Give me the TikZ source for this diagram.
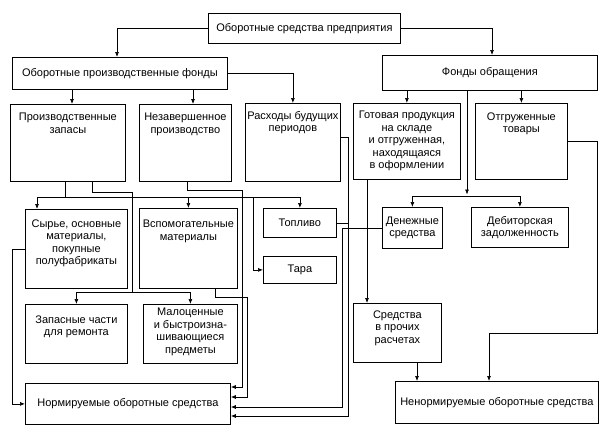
\documentclass[tikz,border=0pt]{standalone}
\usepackage{fontspec}
\setmainfont{Liberation Sans}
\usetikzlibrary{positioning,arrows.meta}

\begin{document}
\begin{tikzpicture}[x=1pt,y=-1pt,line width=0.7pt,>={Latex[length=5pt,width=4pt]},
  box/.style = {draw, line width=0.8pt, inner sep=0pt, align=center, anchor=north west, font=\fontsize{11}{12.5}\selectfont},
  txt/.style = {inner sep=0pt, align=center, font=\fontsize{11}{12.5}\selectfont}]
\useasboundingbox (0,0) rectangle (611,429);

\node[box, minimum width=192pt, minimum height=30pt] (osp) at (208,13) {Оборотные средства предприятия};
\node[box, minimum width=215pt, minimum height=32pt] (opf) at (12,57) {Оборотные производственные фонды};
\node[box, minimum width=215pt, minimum height=35pt] (fo) at (382,55) {Фонды обращения};
\node[box, minimum width=115pt, minimum height=77pt] (pz) at (10,104) {};
\node[box, minimum width=92pt, minimum height=77pt] (nzp) at (139,104) {};
\node[box, minimum width=95pt, minimum height=78pt] (rbp) at (245,103) {};
\node[box, minimum width=107pt, minimum height=76pt] (gp) at (353,103) {};
\node[box, minimum width=92pt, minimum height=76pt] (ot) at (475,103) {};
\node[box, minimum width=102pt, minimum height=79pt] (syr) at (25,209) {};
\node[box, minimum width=98pt, minimum height=80pt] (vsp) at (139,208) {};
\node[box, minimum width=73pt, minimum height=29pt] (topl) at (263,208) {Топливо};
\node[box, minimum width=73pt, minimum height=27pt] (tara) at (263,256) {Тара};
\node[box, minimum width=60pt, minimum height=41pt] (den) at (382,207) {Денежные\\средства};
\node[box, minimum width=97pt, minimum height=40pt] (deb) at (471,207) {Дебиторская\\задолженность};
\node[box, minimum width=102pt, minimum height=59pt] (zch) at (25,304) {};
\node[box, minimum width=94pt, minimum height=59pt] (mal) at (143,304) {};
\node[box, minimum width=88pt, minimum height=59pt] (spr) at (353,303) {};
\node[box, minimum width=205pt, minimum height=41pt] (norm) at (25,383) {Нормируемые оборотные средства};
\node[box, minimum width=203pt, minimum height=42pt] (nenorm) at (395,381) {Ненормируемые оборотные средства};

\node[txt, below=9pt of pz.north] (pz-t) {Производственные\\запасы};
\node[txt, below=9pt of nzp.north] (nzp-t) {Незавершенное\\производство};
\node[txt, below=8pt of rbp.north] (rbp-t) {Расходы будущих\\периодов};
\node[txt, below=8pt of gp.north] (gp-t) {Готовая продукция\\на складе\\и отгруженная,\\находящаяся\\в оформлении};
\node[txt, below=9pt of ot.north] (ot-t) {Отгруженные\\товары};
\node[txt, below=10pt of syr.north] (syr-t) {Сырье, основные\\материалы,\\покупные\\полуфабрикаты};
\node[txt, below=12pt of vsp.north] (vsp-t) {Вспомогательные\\материалы};
\node[txt, below=11pt of zch.north] (zch-t) {Запасные части\\для ремонта};
\node[txt, below=4pt of mal.north] (mal-t) {Малоценные\\и быстроизна-\\шивающиеся\\предметы};
\node[txt, below=7pt of spr.north] (spr-t) {Средства\\в прочих\\расчетах};

\coordinate (pj) at (65,197);
\coordinate (pk) at (132,292);
\coordinate (fj) at (467,196);

\draw[->] (osp.west) -| (117,0 |- opf.north);
\draw[->] (osp.east) -| (492,0 |- fo.north);
\draw[->] (72,0 |- opf.south) -- (72,0 |- pz.north);
\draw[->] (193,0 |- opf.south) -- (193,0 |- nzp.north);
\draw[->] (opf.east) -| (rbp.north);
\draw[->] (gp.north |- fo.south) -- (gp.north);
\draw[->] (ot.north |- fo.south) -- (ot.north);
\draw[->] (fj |- fo.south) -- ([yshift=1.5pt]fj);
\draw[->] (fj) -| (den.north);
\draw[->] (fj) -| (deb.north);

% запасы
\draw (65,0 |- pz.south) -- (pj);
\draw[->] (pj) -| (37,0 |- syr.north);
\draw[->] (pj) -| (vsp.north);
\draw[->] (pj) -| (topl.north);
\draw[->] (253,197) |- (tara.west);
\draw (92,0 |- pz.south) |- (132,192) -- (pk);
\draw[->] (pk) -| (zch.north);
\draw[->] (pk) -| (mal.north);

% нормируемые
\draw[->] (syr.west) -| (12,0 |- norm.west) -- (norm.west);
\draw[->] (187,0 |- nzp.south) |- (242,190) |- (norm.east |- 0,387);
\draw[->] (215,0 |- vsp.south) |- (247,297) |- (norm.east |- 0,397);
\draw[->] (rbp.east |- 0,137) -| (348,416) -- (norm.east |- 0,416);
\draw (topl.east) -- (348,0 |- topl.east);
\draw[->] (den.west) -| (342,407) -- (norm.east |- 0,407);

% ненормируемые
\draw[->] (367,0 |- gp.south) -- (367,0 |- spr.north);
\draw[->] (417,0 |- spr.south) -- (417,0 |- nenorm.north);
\draw[->] (ot.east) -| (597,333) -| (489,0 |- nenorm.north);
\end{tikzpicture}
\end{document}
